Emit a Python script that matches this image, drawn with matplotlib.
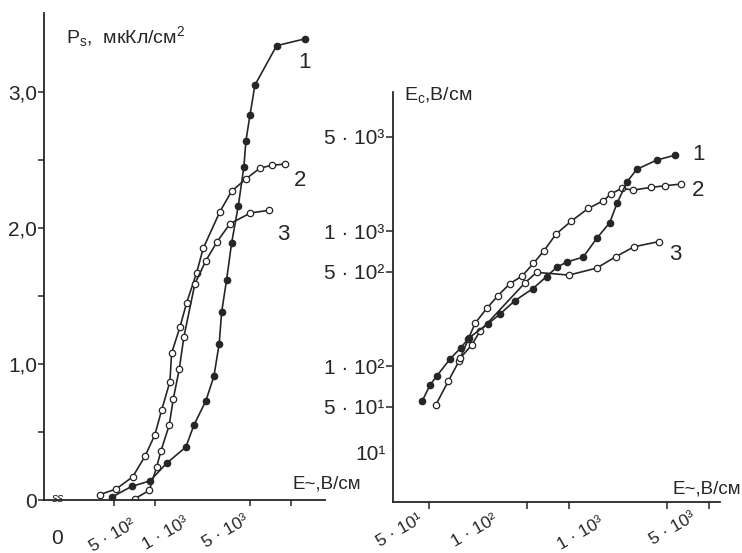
import matplotlib
matplotlib.use('Agg')
import matplotlib.pyplot as plt
from matplotlib.ticker import FixedLocator, NullLocator, NullFormatter

plt.rcParams['font.family'] = ['Liberation Sans', 'DejaVu Sans']
plt.rcParams['mathtext.fontset'] = 'custom'
plt.rcParams['mathtext.rm'] = 'Liberation Sans'
plt.rcParams['mathtext.it'] = 'Liberation Sans:italic'

# ---------------- data (left panel: Ps vs E~) ----------------
ps1_E = [481, 674, 919, 1219, 1690, 1935, 2371, 2716, 2970, 3093, 3367, 3664,
         4099, 4510, 4667, 5000, 5435, 7850, 12680]
ps1_P = [0.02, 0.10, 0.14, 0.27, 0.39, 0.55, 0.73, 0.91, 1.15, 1.38, 1.62, 1.89,
         2.16, 2.45, 2.64, 2.83, 3.05, 3.34, 3.39]

ps2_E = [394, 517, 686, 844, 1000, 1120, 1289, 1327, 1527, 1711, 2026, 2265,
         3006, 3664, 4667, 5916, 7212, 9034]
ps2_P = [0.04, 0.08, 0.17, 0.32, 0.48, 0.66, 0.87, 1.08, 1.27, 1.45, 1.67, 1.85,
         2.12, 2.27, 2.36, 2.44, 2.46, 2.47]

ps3_E = [713, 908, 1029, 1107, 1274, 1363, 1509, 1634, 1968, 2371, 2871, 3559,
         5035, 6925]
ps3_P = [0.01, 0.07, 0.24, 0.36, 0.55, 0.74, 0.96, 1.20, 1.59, 1.76, 1.90, 2.03,
         2.11, 2.13]

ps_yticks = [0, 1, 2, 3]
ps_ylabels = ['0', '1,0', '2,0', '3,0']
ps_yminor = [0.5, 1.5, 2.5]
ps_xticks = [5e2, 1e3, 5e3, 1e4]
ps_xlabels = ['5 · 10²', '1 · 10³', '5 · 10³']

# ---------------- data (right panel: Ec vs E~) ----------------
ec1_E = [89.6, 101.6, 113.5, 141.3, 169.3, 193.1, 265.3, 321.5, 411.5, 553, 690.9,
         820.6, 975.6, 1265, 1577, 1953, 2203, 2597, 3046, 4230, 5764]
ec1_Ec = [55.3, 72.3, 84.3, 112.7, 137.1, 162, 206.4, 242.9, 305.6, 375.1, 460.3,
          541, 592.5, 641.7, 883, 1152, 1604, 2318, 2864, 3357, 3655]

ec2_E = [111.6, 137.4, 164.6, 190.8, 213.2, 258.3, 311, 379, 461.6, 557.7, 662.6,
         807.5, 1033, 1374, 1758, 1986, 2379, 2879, 3833, 4850, 6277]
ec2_Ec = [51.4, 77.4, 109.8, 158.5, 207.2, 267.5, 332.7, 408.5, 464.2, 576.5, 714.6,
          950, 1180, 1473, 1676, 1880, 2072, 2013, 2106, 2165, 2229]

ec3_E = [166.5, 201.8, 231.4, 485, 587.7, 1000, 1577, 2166, 2914, 4394]
ec3_Ec = [114, 143.1, 181.6, 414, 494.3, 472, 532, 647.4, 765, 836]

ec_yticks = [5e1, 1e2, 5e2, 1e3, 5e3]
ec_ylabels = ['5 · 10¹', '1 · 10²', '5 · 10²', '1 · 10³', '5 · 10³']
ec_xticks = [1e2, 5e2, 1e3, 5e3, 1e4]
ec_xlabels = ['5 · 10¹', '1 · 10²', '1 · 10³', '5 · 10³']

# ---------------- figure ----------------
W, H = 742, 553
INK = '#262626'
fig = plt.figure(figsize=(W / 100, H / 100), dpi=100)


def rect(x0, y0, x1, y1):
    return [x0 / W, 1 - y1 / H, (x1 - x0) / W, (y1 - y0) / H]


def ftext(x, y, s, **kw):
    kw.setdefault('color', INK)
    fig.text(x / W, 1 - y / H, s, **kw)


axL = fig.add_axes(rect(44, 13, 325, 500))
axR = fig.add_axes(rect(393, 92, 720, 502))

for ax in (axL, axR):
    ax.set_facecolor('none')
    for s in ('top', 'right'):
        ax.spines[s].set_visible(False)
    for s in ('left', 'bottom'):
        ax.spines[s].set_linewidth(1.3)
        ax.spines[s].set_color(INK)

line_kw = dict(color=INK, lw=1.2)
filled = dict(marker='o', ms=4.6, mfc=INK, mec=INK, mew=0.9)
opened = dict(marker='o', ms=4.6, mfc='white', mec=INK, mew=0.9)

# left panel
axL.plot(ps2_E, ps2_P, **line_kw, **opened)
axL.plot(ps3_E, ps3_P, **line_kw, **opened)
axL.plot(ps1_E, ps1_P, **line_kw, **filled)
axL.set_xscale('log')
axL.set_xlim(153, 17800)
axL.set_ylim(0, 3.58)
axL.xaxis.set_major_locator(FixedLocator(ps_xticks))
axL.xaxis.set_major_formatter(NullFormatter())
axL.xaxis.set_minor_locator(NullLocator())
axL.set_yticks(ps_yticks, ps_ylabels)
axL.yaxis.set_minor_locator(FixedLocator(ps_yminor))
axL.tick_params(axis='both', which='both', direction='out', length=4.3, width=1.1,
                color=INK, labelsize=15, labelcolor=INK, pad=0.5)

# right panel
axR.plot(ec2_E, ec2_Ec, **line_kw, **opened)
axR.plot(ec3_E, ec3_Ec, **line_kw, **opened)
axR.plot(ec1_E, ec1_Ec, **line_kw, **filled)
axR.set_xscale('log')
axR.set_yscale('log')
axR.set_xlim(55.3, 11990)
axR.set_ylim(9.84, 10720)
axR.xaxis.set_major_locator(FixedLocator(ec_xticks))
axR.xaxis.set_major_formatter(NullFormatter())
axR.xaxis.set_minor_locator(NullLocator())
axR.yaxis.set_major_locator(FixedLocator(ec_yticks))
axR.set_yticklabels(ec_ylabels)
axR.yaxis.set_minor_locator(NullLocator())
axR.tick_params(axis='both', which='both', direction='out', length=5, width=1.1,
                color=INK, labelsize=15, labelcolor=INK, pad=1.5)

# rotated x tick labels (hand-placed as in the original drawing)
rot_kw = dict(rotation=30, rotation_mode='anchor', ha='right', va='top', fontsize=12.5)
ftext(57, 538, '0', ha='center', va='center', fontsize=15)
for (x, y), s in zip([(131, 516), (184, 514), (244, 512)], ps_xlabels):
    ftext(x, y, s, **rot_kw)
for (x, y), s in zip([(418, 511), (493, 511), (599, 514), (691, 509)], ec_xlabels):
    ftext(x, y, s, **rot_kw)
ftext(386, 455, '10¹', ha='right', va='center', fontsize=15)

# axis break mark
ftext(58, 499, 'ss', ha='center', va='center', fontsize=9, style='italic')

# axis titles
ftext(66, 37, 'P$_\\mathregular{s}$,  мкКл/см$^\\mathregular{2}$', ha='left', va='center', fontsize=14)
ftext(293, 484, 'E~,В/см', ha='left', va='center', fontsize=13.5)
ftext(404, 95, 'E$_\\mathregular{c}$,В/см', ha='left', va='center', fontsize=14)
ftext(672, 489, 'E~,В/см', ha='left', va='center', fontsize=13.5)

# curve numbers
for (x, y), s in zip([(305, 63), (300, 181), (283, 234)], ['1', '2', '3']):
    ftext(x, y, s, ha='center', va='center', fontsize=16)
for (x, y), s in zip([(698, 155), (698, 190), (675, 255)], ['1', '2', '3']):
    ftext(x, y, s, ha='center', va='center', fontsize=16)

fig.savefig('out.png', dpi=100, facecolor='white')
